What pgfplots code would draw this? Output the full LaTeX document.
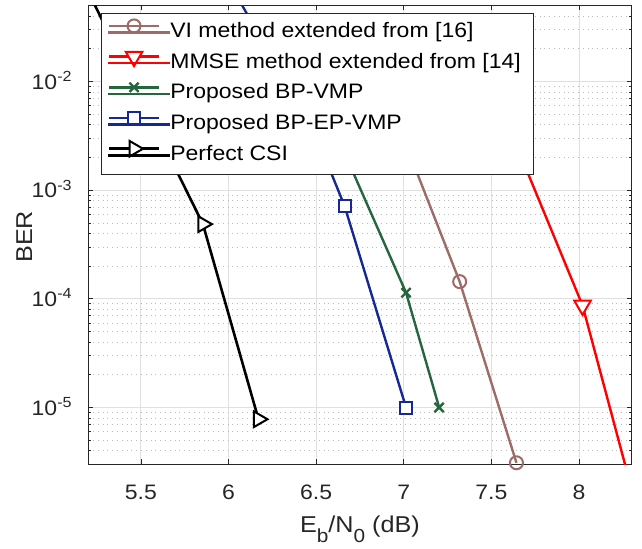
\documentclass[border=0pt]{standalone}
\usepackage{fontspec}
\setmainfont{Liberation Sans}[FakeStretch=1.1]
\usepackage{pgfplots}
\pgfplotsset{compat=1.18}
\definecolor{cbrown}{RGB}{158,108,104}
\definecolor{cred}{RGB}{255,0,0}
\definecolor{cgreen}{RGB}{38,102,62}
\definecolor{cblue}{RGB}{22,40,148}
\definecolor{axgray}{RGB}{38,38,38}
\definecolor{gridgray}{RGB}{224,224,224}
\definecolor{mgridgray}{RGB}{185,185,185}
\newcommand{\tfont}{\fontsize{21}{24}\selectfont}
\newcommand{\lfont}{\fontsize{23}{26}\selectfont}
\begin{document}
\begin{tikzpicture}
\begin{axis}[
  scale only axis, width=543.3bp, height=458.7bp,
  xmin=5.2, xmax=8.3,
  ymode=log, ymin=3.02e-6, ymax=5.03e-2,
  xtick={5.5,6,6.5,7,7.5,8},
  xticklabels={5.5,6,6.5,7,7.5,8},
  ytick={1e-5,1e-4,1e-3,1e-2},
  yticklabels={10\textsuperscript{-5},10\textsuperscript{-4},10\textsuperscript{-3},10\textsuperscript{-2}},
  minor ytick={3e-6,4e-6,5e-6,6e-6,7e-6,8e-6,9e-6,2e-5,3e-5,4e-5,5e-5,6e-5,7e-5,8e-5,9e-5,2e-4,3e-4,4e-4,5e-4,6e-4,7e-4,8e-4,9e-4,2e-3,3e-3,4e-3,5e-3,6e-3,7e-3,8e-3,9e-3,2e-2,3e-2,4e-2,5e-2},
  xmajorgrids, ymajorgrids, yminorgrids,
  major grid style={gridgray, line width=0.9bp},
  minor grid style={mgridgray, line width=0.7bp, dash pattern=on 0.8bp off 4bp},
  tick align=inside,
  major tick length=5bp, minor tick length=3bp,
  tick style={axgray, line width=0.7bp},
  axis line style={axgray, line width=0.9bp},
  xticklabel style={font=\tfont, text=axgray, anchor=base, inner sep=0pt, yshift=-35.3bp},
  yticklabel style={font=\tfont, text=axgray, anchor=base east, inner sep=0pt, xshift=-16bp, yshift=-7.5bp},
  xlabel={E\raisebox{-0.42em}{\fontsize{19}{19}\selectfont b}/N\raisebox{-0.42em}{\fontsize{19}{19}\selectfont 0} (dB)},
  xlabel style={font=\lfont, text=axgray, at={(axis description cs:0.5,-0.1498)}, anchor=base, inner sep=0pt},
  ylabel={BER},
  ylabel style={font=\lfont, text=axgray, at={(axis description cs:-0.118,0.4955)}, anchor=center, inner sep=0pt},
  legend cell align=left,
  legend style={at={(axis description cs:0.0228,0.9839)}, anchor=north west,
    draw=axgray, line width=0.9bp, fill=white,
    font=\tfont, inner xsep=6.6bp, inner ysep=9.4bp,
    row sep=10.7bp, column sep=0pt,
    nodes={inner sep=0pt, text height=15bp, text depth=5bp}},
  legend image code/.code={%
    \draw[#1, line width=2.5bp, mark indices={2}, overlay] plot coordinates {(0bp,6.6bp) (25bp,6.6bp) (50bp,6.6bp)};
    \path (0bp,0bp) rectangle (60bp,0.1bp);
  },
]
% VI method extended from [16]
\addplot[color=cbrown, line width=2.4bp, mark=o, mark size=6.5bp,
  mark options={solid, fill=white, line width=2bp}, mark indices={2,3}]
  coordinates {(6.8,0.0197) (7.319,1.44e-4) (7.643,3.1e-6)};
\addlegendentry{VI method extended from [16]}
% MMSE method extended from [14]
\addplot[color=cred, line width=2.4bp, mark=triangle*, mark size=9.5bp,
  mark options={solid, fill=white, line width=2bp, rotate=180}, mark indices={2}]
  coordinates {(7.4,0.0229) (8.02,8.7e-5) (8.3,1.78e-6)};
\addlegendentry{MMSE method extended from [14]\hspace*{6bp}}
% Proposed BP-VMP
\addplot[color=cgreen, line width=2.4bp, mark=x, mark size=6.5bp,
  mark options={solid, line width=2.4bp}, mark indices={2,3}]
  coordinates {(6.4,0.0201) (7.013,1.14e-4) (7.202,1e-5)};
\addlegendentry{Proposed BP-VMP}
% Proposed BP-EP-VMP
\addplot[color=cblue, line width=2.4bp, mark=square*, mark size=6bp,
  mark options={solid, fill=white, line width=2bp}, mark indices={3,4}]
  coordinates {(6.078,0.0502) (6.5,3.16e-3) (6.662,7.17e-4) (7.013,1e-5)};
\addlegendentry{Proposed BP-EP-VMP}
% Perfect CSI
\addplot[color=black, line width=2.6bp, mark=triangle*, mark size=9bp,
  mark options={solid, fill=white, line width=2bp, rotate=-90}, mark indices={2,3}]
  coordinates {(5.238,0.0502) (5.854,4.87e-4) (6.171,7.8e-6)};
\addlegendentry{Perfect CSI}
\end{axis}
\pgfresetboundingbox
\path ([xshift=-88.3bp,yshift=-85bp]current axis.south west) rectangle ++(642bp,549bp);
\end{tikzpicture}
\end{document}
